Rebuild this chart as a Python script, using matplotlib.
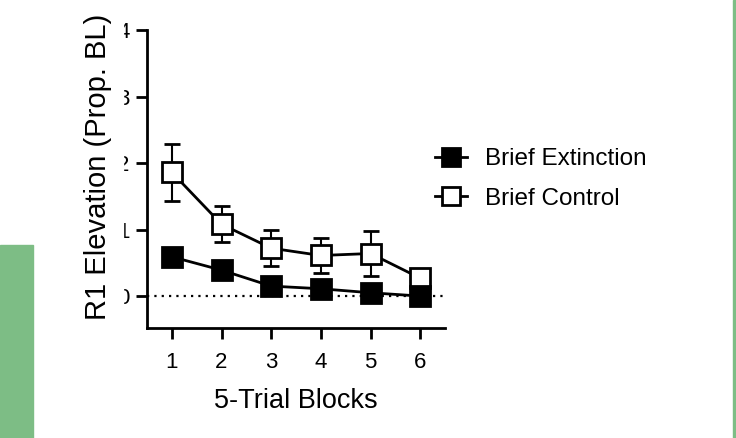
import numpy as np
import matplotlib.pyplot as plt
from matplotlib.patches import Rectangle
from matplotlib.lines import Line2D

plt.rcParams['font.family'] = ['Liberation Sans', 'DejaVu Sans']

blocks = [1, 2, 3, 4, 5, 6]
ext_mean = [0.59, 0.39, 0.15, 0.11, 0.05, 0.0]
ext_err = [0.05, 0.05, 0.04, 0.04, 0.03, 0.03]
ctl_mean = [1.86, 1.08, 0.72, 0.61, 0.64, 0.27]
ctl_err = [0.43, 0.27, 0.27, 0.26, 0.34, 0.10]
yticks = [0, 1, 2, 3, 4]
names = ['Brief Extinction', 'Brief Control']

W, H = 736, 438
fig = plt.figure(figsize=(W / 100, H / 100), dpi=100)
ax = fig.add_axes([147 / W, (H - 328) / H, (445 - 147) / W, (328 - 30) / H])

ax.axhline(0, color='black', linestyle=(0, (1, 2.3)), linewidth=1.6, zorder=1)

ax.errorbar(blocks, ctl_mean, yerr=ctl_err, color='black', marker='s', markersize=14,
            markerfacecolor='white', markeredgecolor='black', markeredgewidth=2,
            linewidth=2, elinewidth=1.5, capsize=6, capthick=1.5, zorder=2)
ax.errorbar(blocks, ext_mean, yerr=ext_err, color='black', marker='s', markersize=14,
            markerfacecolor='black', markeredgecolor='black', markeredgewidth=2,
            linewidth=2, elinewidth=1.5, capsize=6, capthick=1.5, zorder=3)

ax.set_xlim(0.5, 6.5)
ax.set_ylim(-0.48, 4)
ax.set_xticks(blocks)
ax.set_yticks(yticks)
for s in ['top', 'right']:
    ax.spines[s].set_visible(False)
for s in ['left', 'bottom']:
    ax.spines[s].set_linewidth(2)
ax.spines['left'].set_bounds(-0.48, 4)
ax.tick_params(width=2, length=8, labelsize=16)
ax.tick_params(axis='x', pad=9)
ax.tick_params(axis='y', pad=4.5)
ax.set_xlabel('5-Trial Blocks', fontsize=19.5, labelpad=11)
ax.set_ylabel('R1 Elevation (Prop. BL)', fontsize=21)
ax.yaxis.set_label_coords((112 - 147) / 298, 0.54)

handles = [Line2D([], [], color='black', lw=2, marker='s', markersize=13,
                  markerfacecolor=fc, markeredgecolor='black', markeredgewidth=2)
           for fc in ['black', 'white']]
ax.legend(handles, names, loc='center left',
          bbox_to_anchor=(435 / W, (H - 179) / H), bbox_transform=fig.transFigure,
          frameon=False, fontsize=17.5, handlelength=1.32, handletextpad=0.74,
          labelspacing=0.72, borderpad=0, borderaxespad=0)

# clipped tick label strip and green page edges
fig.add_artist(Rectangle((113 / W, 0), 10 / W, 1, transform=fig.transFigure,
                         color='white', zorder=10))
fig.add_artist(Rectangle((0, 0), 33 / W, (H - 245) / H, transform=fig.transFigure,
                         color='#7dbd85', zorder=10))
fig.add_artist(Rectangle((733 / W, 0), 3 / W, 1, transform=fig.transFigure,
                         color='#7dbd85', zorder=10))

fig.savefig('out.png', dpi=100)
